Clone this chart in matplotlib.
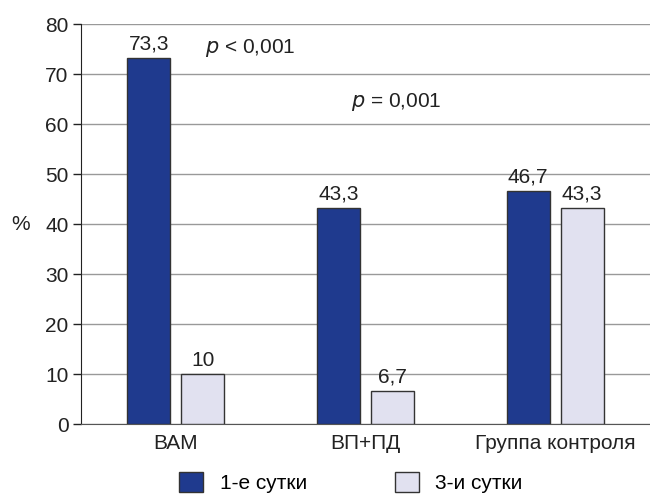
import numpy as np
import matplotlib
matplotlib.use('Agg')
from matplotlib import pyplot as plt

plt.rcParams['font.family'] = ['Liberation Sans', 'DejaVu Sans']

groups = ['ВАМ', 'ВП+ПД', 'Группа контроля']
day1 = [73.3, 43.3, 46.7]
day3 = [10, 6.7, 43.3]
day1_labels = ['73,3', '43,3', '46,7']
day3_labels = ['10', '6,7', '43,3']
series_names = ['1-е сутки', '3-и сутки']

dark = '#1f3a8e'
light = '#e1e1f0'
edge = '#333333'
fs = 15

fig = plt.figure(figsize=(6.5, 5.04), dpi=100)
ax = fig.add_axes([0.1246, 0.1587, 0.8754, 0.7936])

x = np.arange(len(groups))
w = 0.226
off = 0.142
b1 = ax.bar(x - off, day1, w, color=dark, edgecolor=edge, linewidth=1, label=series_names[0], zorder=3)
b2 = ax.bar(x + off, day3, w, color=light, edgecolor=edge, linewidth=1, label=series_names[1], zorder=3)

for i in range(len(groups)):
    ax.annotate(day1_labels[i], (x[i] - off, day1[i]), xytext=(0, 3), textcoords='offset points',
                ha='center', va='bottom', fontsize=fs, color='#222222')
    ax.annotate(day3_labels[i], (x[i] + off, day3[i]), xytext=(0, 3), textcoords='offset points',
                ha='center', va='bottom', fontsize=fs, color='#222222')

ax.text(0.39, 75.2, '$\\it{p}$ < 0,001', ha='center', va='center', fontsize=fs, color='#222222')
ax.text(1.16, 64.4, '$\\it{p}$ = 0,001', ha='center', va='center', fontsize=fs, color='#222222')

ax.set_xlim(-0.5, 2.5)
ax.set_ylim(0, 80)
ax.set_yticks(range(0, 81, 10))
ax.set_xticks(x)
ax.set_xticklabels(groups)
ax.tick_params(axis='y', length=6, width=1, labelsize=fs, colors='#222222', pad=3)
ax.tick_params(axis='x', length=0, labelsize=fs, colors='#222222', pad=7)
ax.yaxis.grid(True, color='#999999', linewidth=1, zorder=0)
ax.set_axisbelow(True)
for s in ['top', 'right']:
    ax.spines[s].set_visible(False)
ax.spines['left'].set_color('#222222')
ax.spines['bottom'].set_color('#555555')
ax.set_ylabel('%', rotation=0, fontsize=fs, color='#222222', va='center', ha='center')
ax.yaxis.set_label_coords(-0.107, 0.5)

fig.legend(handles=[b1, b2], loc='lower center', bbox_to_anchor=(0.54, -0.015), ncol=2,
           frameon=False, fontsize=fs, handlelength=1.15, handleheight=1.1,
           columnspacing=4.2, handletextpad=0.8)

fig.savefig('out.png', dpi=100)
